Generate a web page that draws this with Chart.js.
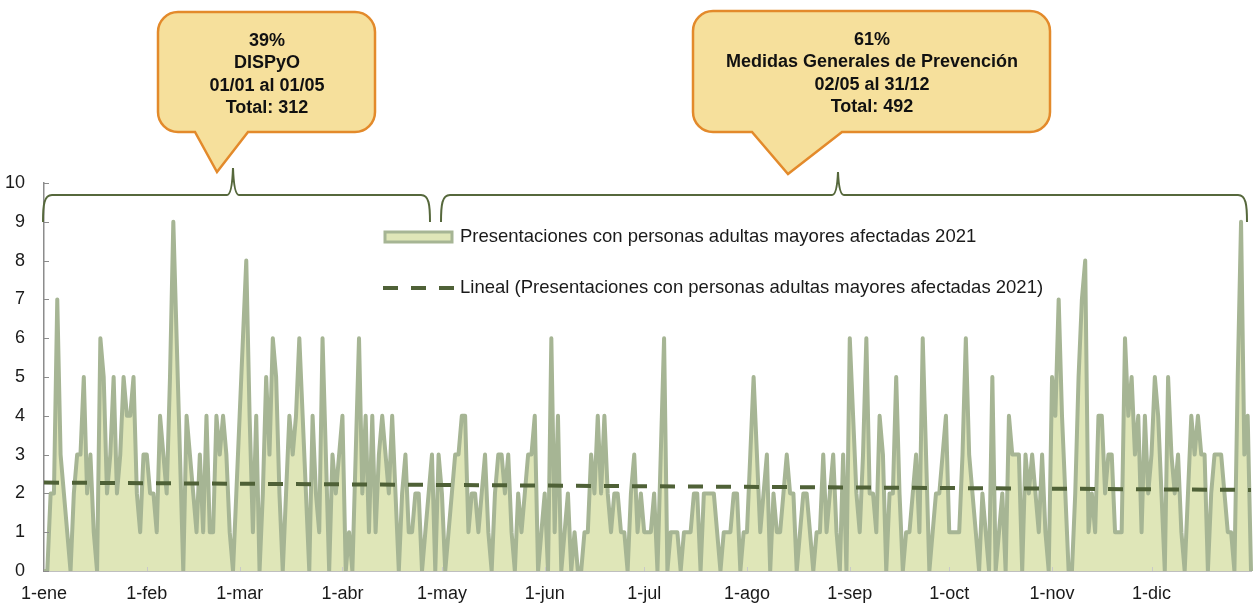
<!DOCTYPE html>
<html lang="es">
<head>
<meta charset="utf-8">
<title>Presentaciones con personas adultas mayores afectadas 2021</title>
<script src="https://cdn.jsdelivr.net/npm/chart.js@4.4.1/dist/chart.umd.min.js"></script>
<style>
  html, body { margin: 0; padding: 0; background: #fff; }
  #chart { display: block; }
</style>
</head>
<body>
<canvas id="chart" width="1259" height="604"></canvas>
<script>
// categories: one label per day of 2021
const monthNames = ['ene', 'feb', 'mar', 'abr', 'may', 'jun', 'jul', 'ago', 'sep', 'oct', 'nov', 'dic'];
const monthDays = [31, 28, 31, 30, 31, 30, 31, 31, 30, 31, 30, 31];

// daily presentations, one array per month
const ene = [0,0,2,2,7,3,2,1,0,2, 3,3,5,2,3,1,0,6,5,2, 3,5,2,3,5,4,4,5,2,1, 3];
const feb = [3,2,2,1,4,3,2,5,9,6, 3,0,4,3,2,1,3,1,4,1, 1,4,3,4,3,1,0,2];
const mar = [4,6,8,4,1,4,0,2,5,3, 6,5,2,0,2,4,3,4,6,4, 2,0,4,2,1,6,3,0,3,2, 3];
const abr = [4,0,1,0,3,6,2,4,1,4, 1,3,4,3,2,4,2,0,2,3, 1,1,2,2,0,1,2,3,0,3];
const may = [2,0,1,2,3,3,4,4,1,2, 2,1,2,3,1,0,2,3,3,2, 3,1,0,2,1,2,3,3,4,0, 1];
const jun = [2,0,6,1,4,0,1,2,0,1, 0,0,1,1,3,2,4,2,4,2, 1,2,2,1,1,0,2,3,1,2];
const jul = [1,1,1,2,0,3,6,0,1,1, 1,0,1,1,1,2,2,0,2,2, 2,2,1,0,1,1,1,2,2,0, 1];
const ago = [1,3,5,3,1,2,3,0,2,1, 1,2,3,2,2,0,1,2,2,1, 0,1,1,3,1,2,3,1,0,3, 0];
const sep = [6,4,2,1,3,6,2,2,1,4, 3,0,2,2,5,2,0,1,1,2, 3,1,6,3,0,1,2,2,3,4];
const oct = [1,1,1,1,3,6,3,2,1,0, 2,1,0,5,0,1,2,0,4,3, 3,3,0,3,2,3,2,1,3,1, 0];
const nov = [5,4,7,4,2,0,0,2,5,7, 8,1,2,1,4,4,2,3,3,1, 1,1,6,4,5,3,4,1,4,2];
const dic = [3,5,4,2,0,5,3,2,3,1, 0,2,4,3,4,3,3,0,2,3, 3,3,2,1,1,0,5,9,3,4, 0];

// linear trend, read at first and last day
const trendStart = 2.28;
const trendEnd = 2.09;

const yMin = 0, yMax = 10, yStep = 1;

const seriesLabel = 'Presentaciones con personas adultas mayores afectadas 2021';
const trendLabel = 'Lineal (Presentaciones con personas adultas mayores afectadas 2021)';

const calloutLeft = ['39%', 'DISPyO', '01/01 al 01/05', 'Total: 312'];
const calloutRight = ['61%', 'Medidas Generales de Prevención', '02/05 al 31/12', 'Total: 492'];

const days = [];
monthNames.forEach((m, i) => {
    for (let d = 1; d <= monthDays[i]; d++) days.push(d + '-' + m);
});
const values = [].concat(ene, feb, mar, abr, may, jun, jul, ago, sep, oct, nov, dic);
const trend = days.map((_, i) => i === 0 ? trendStart : (i === days.length - 1 ? trendEnd : null));

const FONT = "'Liberation Sans', Arial, sans-serif";
const AREA_FILL = '#dfe6b8';
const AREA_LINE = '#a6b594';
const TREND = '#4f6137';

function drawCallout(ctx, box, base, tip, lines, firstY, gap, cx) {
    const { x0, y0, x1, y1, r } = box;
    ctx.beginPath();
    ctx.moveTo(x0 + r, y0);
    ctx.lineTo(x1 - r, y0);
    ctx.arcTo(x1, y0, x1, y0 + r, r);
    ctx.lineTo(x1, y1 - r);
    ctx.arcTo(x1, y1, x1 - r, y1, r);
    ctx.lineTo(base[1], y1);
    ctx.lineTo(tip[0], tip[1]);
    ctx.lineTo(base[0], y1);
    ctx.lineTo(x0 + r, y1);
    ctx.arcTo(x0, y1, x0, y1 - r, r);
    ctx.lineTo(x0, y0 + r);
    ctx.arcTo(x0, y0, x0 + r, y0, r);
    ctx.closePath();
    ctx.fillStyle = '#f6e09c';
    ctx.fill();
    ctx.strokeStyle = '#e38a2b';
    ctx.lineWidth = 2.5;
    ctx.stroke();

    ctx.fillStyle = '#111';
    ctx.font = 'bold 18px ' + FONT;
    ctx.textAlign = 'center';
    ctx.textBaseline = 'middle';
    lines.forEach((t, i) => ctx.fillText(t, cx, firstY + i * gap));
}

function drawBrace(ctx, xa, xb, peak, yLine, yEnd, yTip) {
    ctx.beginPath();
    ctx.moveTo(xa, yEnd);
    ctx.bezierCurveTo(xa, yLine + 10, xa + 1, yLine, xa + 9, yLine);
    ctx.lineTo(peak - 6, yLine);
    ctx.quadraticCurveTo(peak - 1, yLine, peak, yTip);
    ctx.quadraticCurveTo(peak + 1, yLine, peak + 6, yLine);
    ctx.lineTo(xb - 9, yLine);
    ctx.bezierCurveTo(xb - 1, yLine, xb, yLine + 10, xb, yEnd);
    ctx.strokeStyle = '#56683c';
    ctx.lineWidth = 2;
    ctx.stroke();
}

const overlay = {
    id: 'overlay',
    afterDraw(chart) {
        const ctx = chart.ctx;
        const { left, bottom } = chart.chartArea;
        const ys = chart.scales.y, xs = chart.scales.x;
        ctx.save();

        // inside tick marks on the value axis
        ctx.strokeStyle = '#8c8c8c';
        ctx.lineWidth = 1;
        for (let v = yMin; v <= yMax; v += yStep) {
            const py = Math.round(ys.getPixelForValue(v)) + 0.5;
            ctx.beginPath();
            ctx.moveTo(left, py);
            ctx.lineTo(left + 5, py);
            ctx.stroke();
        }
        // month marks on the date axis
        ctx.strokeStyle = '#c9c9c9';
        days.forEach((d, i) => {
            if (!d.startsWith('1-') || i === 0) return;
            const px = Math.round(xs.getPixelForValue(i)) + 0.5;
            ctx.beginPath();
            ctx.moveTo(px, bottom);
            ctx.lineTo(px, bottom - 4);
            ctx.stroke();
        });

        // braces
        drawBrace(ctx, 43, 430, 233, 195, 222, 168);
        drawBrace(ctx, 441, 1247, 838, 195, 222, 172);

        // legend
        ctx.fillStyle = AREA_FILL;
        ctx.strokeStyle = AREA_LINE;
        ctx.lineWidth = 3;
        ctx.beginPath();
        ctx.rect(385, 232, 67, 10);
        ctx.fill();
        ctx.stroke();

        ctx.strokeStyle = TREND;
        ctx.lineWidth = 4;
        ctx.setLineDash([15, 13]);
        ctx.beginPath();
        ctx.moveTo(383, 288);
        ctx.lineTo(454, 288);
        ctx.stroke();
        ctx.setLineDash([]);

        ctx.fillStyle = '#1a1a1a';
        ctx.font = '18.5px ' + FONT;
        ctx.textAlign = 'left';
        ctx.textBaseline = 'middle';
        ctx.fillText(seriesLabel, 460, 237);
        ctx.fillText(trendLabel, 460, 288);

        // callouts
        drawCallout(ctx, { x0: 158, y0: 12, x1: 375, y1: 132, r: 20 }, [195, 248], [217, 172],
            calloutLeft, 41, 22.5, 267);
        drawCallout(ctx, { x0: 693, y0: 11, x1: 1050, y1: 132, r: 20 }, [752, 842], [788, 174],
            calloutRight, 40, 22.5, 872);

        ctx.restore();
    }
};

Chart.defaults.font.family = FONT;
Chart.defaults.font.size = 18;
Chart.defaults.color = '#1a1a1a';

new Chart(document.getElementById('chart'), {
    type: 'line',
    data: {
        labels: days,
        datasets: [
            {
                label: trendLabel,
                data: trend,
                borderColor: TREND,
                borderWidth: 4,
                borderDash: [15, 13],
                pointRadius: 0,
                spanGaps: true,
                fill: false,
                order: 0
            },
            {
                label: seriesLabel,
                data: values,
                borderColor: AREA_LINE,
                backgroundColor: AREA_FILL,
                borderWidth: 4,
                borderJoinStyle: 'round',
                pointRadius: 0,
                tension: 0,
                fill: 'origin',
                order: 1
            }
        ]
    },
    options: {
        responsive: false,
        animation: false,
        events: [],
        layout: { padding: { top: 183, right: 8, left: 0, bottom: 0 } },
        plugins: {
            legend: { display: false },
            title: { display: false },
            tooltip: { enabled: false }
        },
        scales: {
            x: {
                type: 'category',
                offset: false,
                grid: { display: false, drawTicks: false },
                border: { display: true, color: '#bfbfbf', width: 2 },
                ticks: {
                    autoSkip: false,
                    maxRotation: 0,
                    minRotation: 0,
                    padding: 12,
                    font: { size: 18 },
                    callback: (v, i) => days[i].startsWith('1-') ? days[i] : null
                },
                afterFit: s => { s.height = 33; }
            },
            y: {
                min: yMin,
                max: yMax,
                grid: { display: false, drawTicks: false },
                border: { display: true, color: '#8c8c8c', width: 1.5 },
                ticks: { stepSize: yStep, padding: 19, font: { size: 18 } },
                afterFit: s => { s.width = 44; }
            }
        }
    },
    plugins: [overlay]
});
</script>
</body>
</html>
